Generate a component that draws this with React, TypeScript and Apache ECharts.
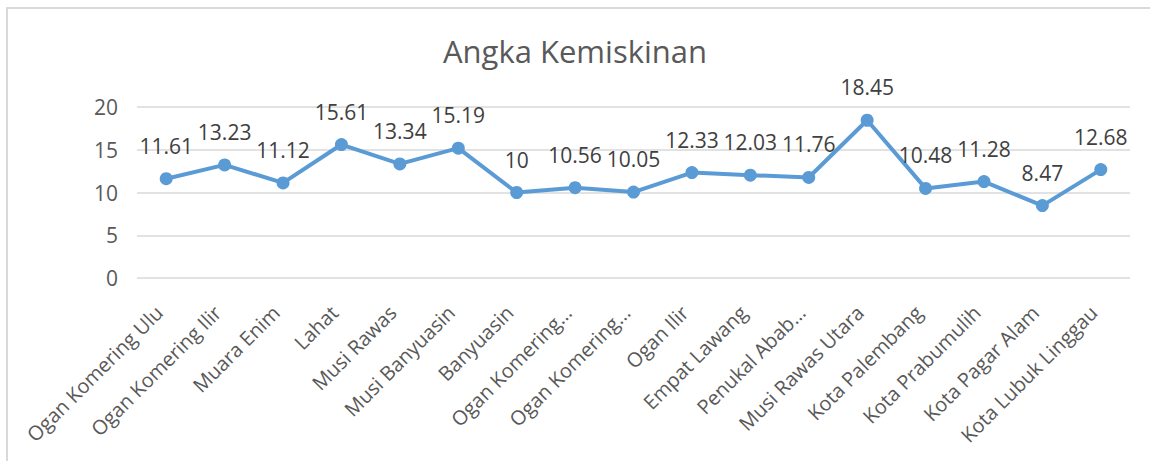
import React, { useEffect, useRef } from "react";
import * as echarts from "echarts";

const categories = [
  "Ogan Komering Ulu",
  "Ogan Komering Ilir",
  "Muara Enim",
  "Lahat",
  "Musi Rawas",
  "Musi Banyuasin",
  "Banyuasin",
  "Ogan Komering…",
  "Ogan Komering…",
  "Ogan Ilir",
  "Empat Lawang",
  "Penukal Abab…",
  "Musi Rawas Utara",
  "Kota Palembang",
  "Kota Prabumulih",
  "Kota Pagar Alam",
  "Kota Lubuk Linggau",
];

const values = [11.61, 13.23, 11.12, 15.61, 13.34, 15.19, 10, 10.56, 10.05, 12.33, 12.03, 11.76, 18.45, 10.48, 11.28, 8.47, 12.68];

const title = "Angka Kemiskinan";

const FONT = "'Open Sans', 'Noto Sans', sans-serif";

export default function App() {
  const ref = useRef<HTMLDivElement>(null);
  useEffect(() => {
    if (!ref.current) return;
    const chart = echarts.init(ref.current, null, { renderer: "svg" });
    chart.setOption({
      animation: false,
      backgroundColor: "#ffffff",
      title: {
        text: title,
        left: "center",
        top: 30,
        textStyle: { fontFamily: FONT, fontSize: 31, fontWeight: "normal", color: "#595959" },
      },
      grid: { left: 137, right: 20, top: 107, bottom: 183, containLabel: false },
      xAxis: {
        type: "category",
        data: categories,
        boundaryGap: true,
        axisLine: { show: false },
        axisTick: { show: false },
        axisLabel: {
          rotate: 45,
          interval: 0,
          margin: 24,
          padding: [0, 10, 0, 0],
          fontFamily: FONT,
          fontSize: 20,
          color: "#595959",
        },
      },
      yAxis: {
        type: "value",
        min: 0,
        max: 20,
        interval: 5,
        axisLine: { show: false },
        axisTick: { show: false },
        axisLabel: { fontFamily: FONT, fontSize: 21, color: "#595959", margin: 19 },
        splitLine: { lineStyle: { color: "#d9d9d9", width: 1.5 } },
      },
      series: [
        {
          type: "line",
          data: values,
          symbol: "circle",
          symbolSize: 13,
          lineStyle: { color: "#5b9bd5", width: 4 },
          itemStyle: { color: "#5b9bd5" },
          label: {
            show: true,
            position: "top",
            distance: 16,
            fontFamily: FONT,
            fontSize: 21,
            color: "#404040",
          },
        },
      ],
    });
    return () => chart.dispose();
  }, []);
  return (
    <div style={{ position: "fixed", left: 0, top: 0, width: 1150, height: 461, background: "#fff" }}>
      <div ref={ref} style={{ position: "absolute", left: 0, top: 0, width: 1150, height: 461 }} />
      <div
        style={{
          position: "absolute",
          left: 6,
          top: 7,
          width: 1160,
          height: 470,
          borderLeft: "2px solid #d9d9d9",
          borderTop: "2px solid #d9d9d9",
          pointerEvents: "none",
        }}
      />
    </div>
  );
}
